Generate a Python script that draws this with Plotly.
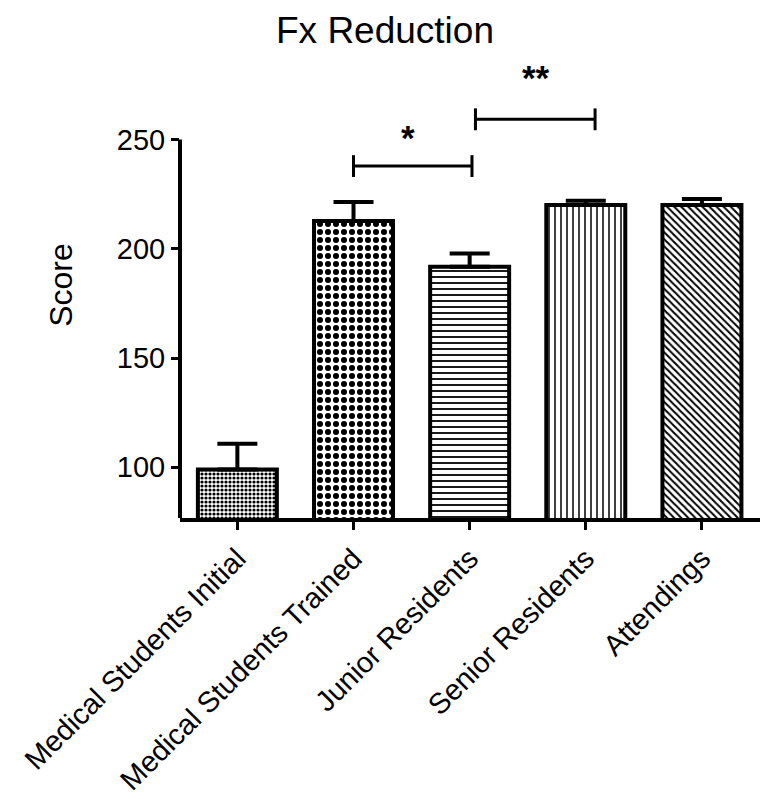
import plotly.graph_objects as go

categories = ["Medical Students Initial", "Medical Students Trained", "Junior Residents",
              "Senior Residents", "Attendings"]
means = [99.0, 212.7, 191.7, 220.0, 220.0]
err_plus = [11.8, 8.7, 6.1, 2.0, 2.7]
pattern_shapes = [".", ".", "-", "|", "\\"]
pattern_sizes = [4, 8, 6, 6, 5]
pattern_solidity = [0.5, 0.45, 0.3, 0.25, 0.4]

# significance brackets
sig_x0 = [1.0, 2.05]
sig_x1 = [2.02, 3.08]
sig_y = [237.8, 259.2]
sig_labels = ["*", "**"]
sig_lx = [1.47, 2.57]
sig_ly = [250.7, 278.5]

y_min, y_max = 76.8, 290
y_axis_top = 250

W, H = 763, 799

fig = go.Figure()
fig.add_trace(go.Bar(
    x=list(range(len(categories))), y=means, width=0.68,
    marker=dict(color="white", line=dict(color="black", width=4),
                pattern=dict(shape=pattern_shapes, size=pattern_sizes,
                             solidity=pattern_solidity, fgcolor="black",
                             bgcolor="white", fillmode="replace")),
    error_y=dict(type="data", array=err_plus, arrayminus=[0] * len(means),
                 symmetric=False, thickness=4, width=20, color="black"),
    hoverinfo="skip",
))

shapes = []
for x0, x1, y in zip(sig_x0, sig_x1, sig_y):
    shapes.append(dict(type="line", xref="x", yref="y", x0=x0, x1=x1, y0=y, y1=y,
                       line=dict(color="black", width=3)))
    for xx in (x0, x1):
        shapes.append(dict(type="line", xref="x", yref="y", x0=xx, x1=xx,
                           y0=y - 5, y1=y + 5, line=dict(color="black", width=3)))
shapes.append(dict(type="line", xref="paper", yref="y", x0=0, x1=0, y0=y_min, y1=y_axis_top,
                   line=dict(color="black", width=4)))

annotations = []
for lab, lx, ly in zip(sig_labels, sig_lx, sig_ly):
    annotations.append(dict(x=lx, y=ly, xref="x", yref="y", text="<b>%s</b>" % lab,
                            showarrow=False, font=dict(size=35, color="black")))

fig.update_layout(
    width=W, height=H,
    margin=dict(l=180, r=3, t=51.7, b=272.3),
    plot_bgcolor="white", paper_bgcolor="white",
    font=dict(family="Liberation Sans, Arial, sans-serif", color="black"),
    title=dict(text="Fx Reduction", x=385 / W, xanchor="center",
               y=1 - 30 / H, yanchor="middle", yref="container",
               font=dict(size=37, color="black")),
    showlegend=False,
    shapes=shapes,
    annotations=annotations,
    xaxis=dict(range=[-0.494, 4.5], tickvals=list(range(len(categories))),
               ticktext=categories, tickangle=-45, ticks="outside", ticklen=8,
               tickwidth=3, tickcolor="black", showline=True, linewidth=4,
               linecolor="black", showgrid=False, zeroline=False,
               tickfont=dict(size=29, color="black")),
    yaxis=dict(range=[y_min, y_max], tickvals=[100, 150, 200, 250],
               ticks="outside", ticklen=8, tickwidth=3, tickcolor="black",
               showline=False, showgrid=False, zeroline=False,
               tickfont=dict(size=29, color="black"),
               title=dict(text="Score", font=dict(size=32, color="black"), standoff=34)),
)

fig.write_html(
    "out.html",
    config={"displayModeBar": False},
    post_script="document.body.style.margin='0';document.body.style.overflow='hidden';",
)
